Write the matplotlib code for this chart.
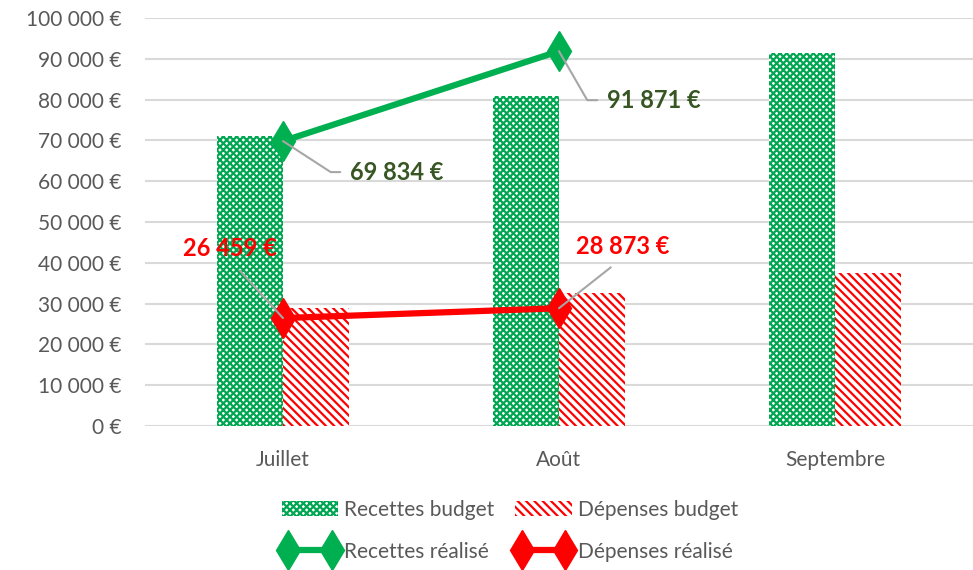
import matplotlib.pyplot as plt
import numpy as np

plt.rcParams['font.family'] = ['Lato', 'DejaVu Sans']
plt.rcParams['hatch.linewidth'] = 1.6

mois = ["Juillet", "Août", "Septembre"]
recettes_budget = [71000, 81000, 91500]
depenses_budget = [29000, 32500, 37500]
recettes_realise = [69834, 91871]
depenses_realise = [26459, 28873]

vert = "#00B050"
vert_barre = "#00A651"
rouge = "#FF0000"
gris = "#595959"


def euros(v):
    return "{:,.0f} €".format(v).replace(",", " ")


fig = plt.figure(figsize=(9.73, 5.70), dpi=100)
ax = fig.add_axes([0.149, 0.2526, 0.851, 0.7158])

x = np.arange(len(mois))
w = 0.24

### budget bars, hatched like the spreadsheet patterns
b1 = ax.bar(x - w / 2, recettes_budget, w, color="white", edgecolor=vert_barre,
            hatch="xxxxx", linewidth=0, label="Recettes budget", zorder=2)
b2 = ax.bar(x + w / 2, depenses_budget, w, color="white", edgecolor=rouge,
            hatch="\\\\\\\\", linewidth=0, label="Dépenses budget", zorder=2)

### actuals (only two months so far)
xr = x[:len(recettes_realise)]
l1, = ax.plot(xr, recettes_realise, color=vert, lw=4.5, marker="d", ms=20,
              label="Recettes réalisé", zorder=4)
l2, = ax.plot(xr, depenses_realise, color=rouge, lw=4.5, marker="d", ms=20,
              label="Dépenses réalisé", zorder=4)

leader = dict(arrowstyle="-", color="#A6A6A6", lw=1.5, shrinkB=0)

ax.annotate(euros(recettes_realise[0]), xy=(xr[0], recettes_realise[0]),
            xytext=(67, -31), textcoords="offset pixels", ha="left", va="center",
            fontsize=17, fontweight="bold", color="#375623", zorder=5,
            arrowprops=dict(leader, relpos=(0, 0.5), shrinkA=5,
                            connectionstyle="angle,angleA=0,angleB=-33,rad=0"))
ax.annotate(euros(recettes_realise[1]), xy=(xr[1], recettes_realise[1]),
            xytext=(48, -49), textcoords="offset pixels", ha="left", va="center",
            fontsize=17, fontweight="bold", color="#375623", zorder=5,
            arrowprops=dict(leader, relpos=(0, 0.5), shrinkA=5,
                            connectionstyle="angle,angleA=0,angleB=-60,rad=0"))
ax.annotate(euros(depenses_realise[0]), xy=(xr[0], depenses_realise[0]),
            xytext=(-53, 70), textcoords="offset pixels", ha="center", va="center",
            fontsize=17, fontweight="bold", color=rouge, zorder=5,
            arrowprops=dict(leader, relpos=(0.5, 0), shrinkA=8))
ax.annotate(euros(depenses_realise[1]), xy=(xr[1], depenses_realise[1]),
            xytext=(64, 62), textcoords="offset pixels", ha="center", va="center",
            fontsize=17, fontweight="bold", color=rouge, zorder=5,
            arrowprops=dict(leader, relpos=(0.5, 0), shrinkA=8))

ax.set_xlim(-0.5, 2.5)
ax.set_ylim(0, 100000)
ax.set_yticks(np.arange(0, 100001, 10000))
ax.set_yticklabels([euros(v) for v in ax.get_yticks()])
ax.set_xticks(x)
ax.set_xticklabels(mois)
ax.tick_params(length=0, labelsize=15, labelcolor=gris)
ax.tick_params(axis="x", pad=17)
ax.tick_params(axis="y", pad=17)
ax.grid(axis="y", color="#D9D9D9", lw=1.5, zorder=0)
ax.set_axisbelow(True)
for s in ax.spines.values():
    s.set_visible(False)

fig.legend([b1, l1, b2, l2],
           ["Recettes budget", "Recettes réalisé", "Dépenses budget", "Dépenses réalisé"],
           ncol=2, loc="center", bbox_to_anchor=(0.524, 0.069), frameon=False,
           fontsize=15, labelcolor=gris, handlelength=2.7, handletextpad=0.3,
           columnspacing=1.0, labelspacing=1.05, numpoints=2)

fig.savefig("out.png", dpi=100)
